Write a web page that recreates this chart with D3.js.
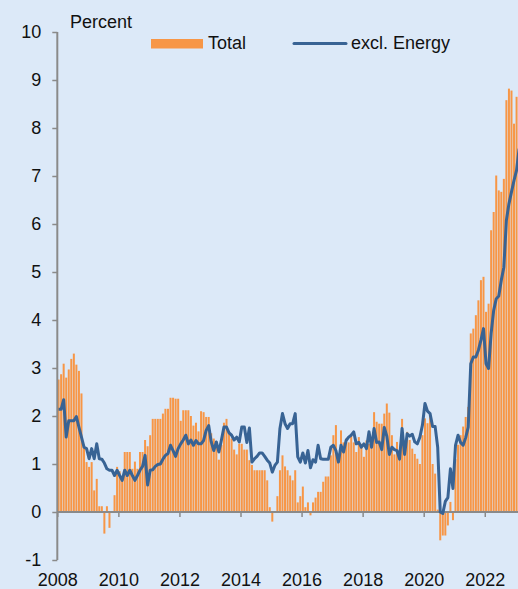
<!DOCTYPE html>
<html><head><meta charset="utf-8">
<script src="https://cdn.jsdelivr.net/npm/d3@7/dist/d3.min.js"></script>
<style>
body{margin:0;background:#dce9f8;}
svg{display:block;font-family:"Liberation Sans",Arial,sans-serif;}
</style>
</head><body>
<svg id="chart" width="518" height="589"></svg>
<script>
// Monthly data, January 2008 onwards
const startYear = 2008;
const seriesNames = ["Total", "excl. Energy"];
const total = [
  2.76, 2.87, 3.09, 2.8, 2.97, 3.19, 3.3, 3.07, 2.94, 2.47, 1.4, 1.04,
  0.94, 1.04, 0.45, 0.69, 0.12, 0.12, -0.45, 0.12, -0.33, 0.0, 0.35, 0.94,
  0.85, 0.72, 1.25, 1.25, 1.25, 0.9, 1.05, 0.9, 1.25, 1.25, 1.5, 1.37,
  1.6, 1.94, 1.94, 1.94, 1.94, 2.05, 2.15, 2.15, 2.38, 2.38, 2.36, 2.36,
  1.9, 2.12, 2.12, 2.12, 2.0, 1.8, 1.86, 1.68, 2.1, 2.08, 1.98, 1.98,
  1.64, 1.53, 1.47, 1.09, 1.4, 1.86, 1.94, 1.63, 1.53, 1.3, 1.2, 1.42,
  1.42, 1.3, 1.3, 1.08, 0.98, 0.87, 0.87, 0.87, 0.87, 0.87, 0.66, 0.1,
  -0.2, 0.0, 0.33, 0.87, 1.18, 0.95, 0.87, 0.76, 0.66, 0.87, 0.2, 0.33,
  0.53, 0.1, 0.2, -0.07, 0.2, 0.3, 0.42, 0.42, 0.63, 0.74, 0.74, 1.18,
  1.6, 1.81, 1.2, 1.7, 1.45, 1.53, 1.45, 1.62, 1.45, 1.25, 1.56, 1.42,
  1.15, 1.49, 1.42, 1.53, 2.08, 1.88, 1.84, 1.84, 2.05, 2.26, 2.07, 1.6,
  1.2, 1.46, 1.3, 1.94, 1.35, 1.67, 1.5, 1.32, 1.21, 1.11, 1.0, 1.6,
  1.95, 1.85, 2.0, 1.0, 0.8, 0.05, -0.59, -0.49, -0.49, -0.28, 0.21, -0.17,
  1.1, 1.4, 1.6, 1.78, 1.98, 2.19, 3.72, 3.82, 4.1, 4.41, 4.83, 4.9,
  4.17, 4.34, 5.87, 6.25, 7.01, 6.7, 6.67, 6.94, 8.58, 8.82, 8.78, 8.09,
  8.65, 8.65
];
const exEnergy = [
  2.14, 2.14, 2.34, 1.56, 1.9, 1.9, 1.9, 1.99, 1.77, 1.56, 1.35, 1.32,
  1.11, 1.32, 1.11, 1.42, 1.11, 1.1, 1.02, 0.9, 0.87, 0.87, 0.76, 0.87,
  0.76, 0.66, 0.87, 0.76, 0.87, 0.76, 0.66, 0.76, 0.87, 0.95, 1.18, 0.56,
  0.87, 0.88, 0.95, 0.99, 1.0, 1.1, 1.18, 1.22, 1.39, 1.28, 1.16, 1.32,
  1.42, 1.5, 1.6, 1.42, 1.5, 1.39, 1.49, 1.42, 1.42, 1.49, 1.7, 1.8,
  1.46, 1.28, 1.46, 1.25, 1.5, 1.77, 1.77, 1.65, 1.6, 1.5, 1.56, 1.46,
  1.77, 1.77, 1.45, 1.75, 1.04, 1.11, 1.16, 1.23, 1.23, 1.16, 1.08, 1.02,
  0.83, 0.97, 1.04, 1.74, 2.05, 1.84, 1.74, 1.84, 1.84, 2.05, 1.15, 1.04,
  1.23, 1.02, 1.28, 0.92, 1.09, 1.04, 1.39, 1.11, 1.1, 1.1, 1.1, 1.35,
  1.39, 1.28, 1.04, 1.39, 1.25, 1.49, 1.56, 1.6, 1.67, 1.42, 1.45, 1.35,
  1.42, 1.32, 1.67, 1.35, 1.74, 1.45, 1.46, 1.3, 1.76, 1.58, 1.2, 1.35,
  1.3, 1.28, 1.1, 1.74, 1.2, 1.63, 1.58, 1.62, 1.46, 1.42, 1.56, 1.81,
  2.26, 2.1, 2.05, 1.78, 1.78, 1.35, 0.0, -0.03, 0.22, 0.3, 0.9, 0.49,
  1.39, 1.6, 1.45, 1.39, 1.55, 1.77, 3.09, 3.23, 3.23, 3.37, 3.58, 3.82,
  3.09, 2.99, 3.72, 4.2, 4.44, 4.5, 4.83, 5.1, 6.08, 6.42, 6.67, 6.91,
  7.12, 7.57
];
const yTickValues = [-1, 0, 1, 2, 3, 4, 5, 6, 7, 8, 9, 10];
const xTickYears = [2008, 2010, 2012, 2014, 2016, 2018, 2020, 2022];
const yAxisTitle = "Percent";

const svg = d3.select("#chart");
const W = 518, H = 589;
svg.append("rect").attr("width", W).attr("height", H).attr("fill", "#dce9f8");

// month index scale (0 = Jan 2008)
const x = d3.scaleLinear().domain([0, 180]).range([57.3, 515.3]);
const y = d3.scaleLinear().domain([-1, 10]).range([560, 32]);

const orange = "#f79646";
const blue = "#386394";
const axisColor = "#8a8a8a";

// bars
const bw = 2.0;
svg.append("g").selectAll("rect").data(total).join("rect")
  .attr("x", (d, i) => x(i + 0.5) - bw / 2)
  .attr("width", bw)
  .attr("y", d => y(Math.max(0, d)))
  .attr("height", d => Math.abs(y(d) - y(0)))
  .attr("fill", orange);

// x axis at zero
const xAxis = d3.axisBottom(x)
  .tickValues(xTickYears.map(yr => (yr - startYear) * 12))
  .tickFormat(v => String(startYear + v / 12))
  .tickSize(5).tickPadding(56.5);
const gx = svg.append("g").attr("transform", `translate(0,${y(0)})`).call(xAxis);
gx.select(".domain").attr("d", `M${x(0)},0H${W}`).attr("stroke", axisColor).attr("stroke-width", 2);
gx.selectAll(".tick line").attr("stroke", axisColor).attr("stroke-width", 1.5);
gx.selectAll(".tick text").attr("font-size", 18).attr("fill", "#111").attr("font-family", "Liberation Sans, Arial, sans-serif");

// y axis
const yAxis = d3.axisLeft(y).tickValues(yTickValues).tickFormat(d => String(d))
  .tickSize(5).tickPadding(11);
const gy = svg.append("g").attr("transform", `translate(${x(0)},0)`).call(yAxis);
gy.select(".domain").attr("d", `M0,${y(10)}V${y(-1)}`).attr("stroke", axisColor).attr("stroke-width", 2);
gy.selectAll(".tick line").attr("stroke", axisColor).attr("stroke-width", 1.5);
gy.selectAll(".tick text").attr("font-size", 18).attr("fill", "#111").attr("font-family", "Liberation Sans, Arial, sans-serif");

// line
const line = d3.line().x((d, i) => x(i + 0.5)).y(d => y(d)).curve(d3.curveLinear);
svg.append("path").datum(exEnergy).attr("d", line)
  .attr("fill", "none").attr("stroke", blue).attr("stroke-width", 3)
  .attr("stroke-linejoin", "round");

// titles
svg.append("text").attr("x", 70).attr("y", 27.5).attr("font-size", 18).attr("fill", "#111").text(yAxisTitle);

// legend
const lg = svg.append("g");
lg.append("rect").attr("x", 151).attr("y", 39).attr("width", 52).attr("height", 9.5).attr("fill", orange);
lg.append("text").attr("x", 208).attr("y", 49.3).attr("font-size", 18).attr("fill", "#111").text(seriesNames[0]);
lg.append("line").attr("x1", 294).attr("x2", 346).attr("y1", 43.5).attr("y2", 43.5)
  .attr("stroke", blue).attr("stroke-width", 3).attr("stroke-linecap", "round");
lg.append("text").attr("x", 351).attr("y", 49.3).attr("font-size", 18).attr("fill", "#111").text(seriesNames[1]);
</script>
</body></html>
